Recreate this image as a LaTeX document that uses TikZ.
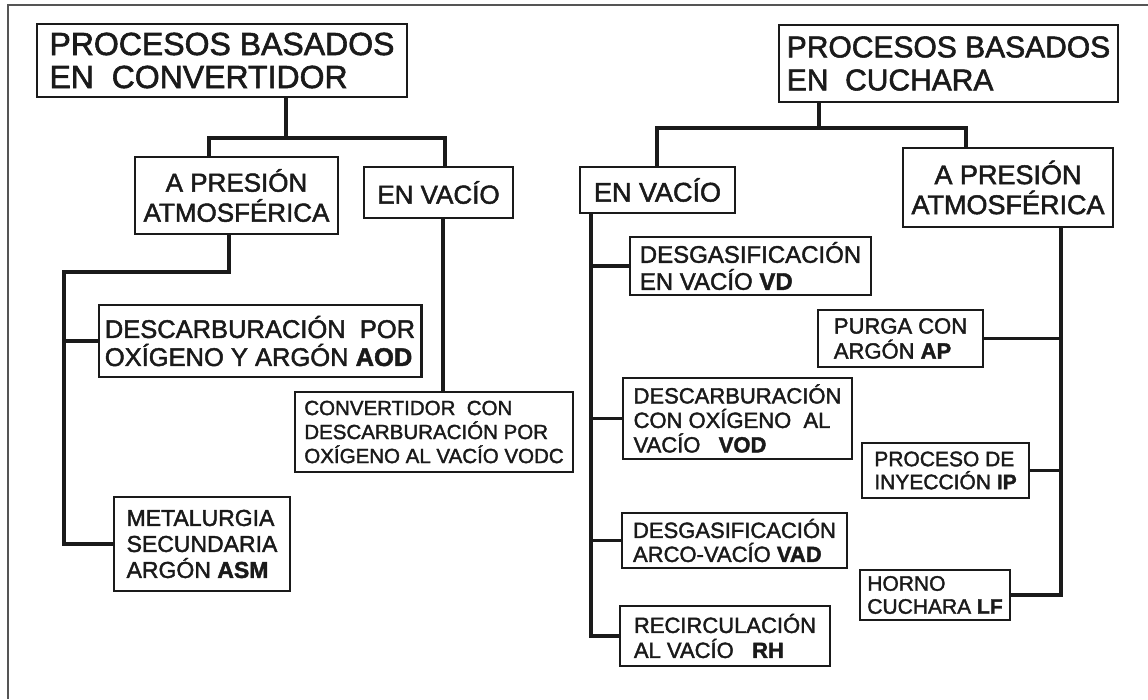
\documentclass[tikz,border=0pt]{standalone}
\usepackage{fontspec}
\setmainfont{Liberation Sans}[FakeBold=1.8]
\definecolor{ink}{HTML}{1A1A1A}
\definecolor{framec}{HTML}{555555}
\newcommand\setfs[2]{\fontsize{#1}{#2}\selectfont}
\begin{document}
\begin{tikzpicture}[x=1pt,y=-1pt,
  box/.style={draw=ink, line width=2.7pt, inner xsep=6pt, inner ysep=1pt, align=left, text=ink},
  wire/.style={draw=ink, line width=3.2pt, line cap=rect}]
\useasboundingbox (0,0) rectangle (1148,699);
\fill[white] (0,0) rectangle (1148,699);
\draw[framec, line width=1.4pt] (8,699) -- (8,5) -- (1148,5);

% left tree
\node[box, minimum width=370pt, minimum height=73pt, font=\setfs{32}{33}] (conv) at (222,60.5) {PROCESOS BASADOS\\EN\ \ CONVERTIDOR};
\node[box, align=center, minimum width=203pt, minimum height=77pt, font=\setfs{26}{30}] (apres) at (236.5,195.5) {A PRESIÓN\\ATMOSFÉRICA};
\node[box, minimum width=149pt, minimum height=51pt, font=\setfs{26}{28}] (vac) at (438.5,192.5) {EN VACÍO};
\node[box, minimum width=322pt, minimum height=72pt, font=\setfs{25.5}{28}] (aod) at (260,341) {DESCARBURACIÓN\ \ POR\\OXÍGENO Y ARGÓN \textbf{AOD}};
\node[box, minimum width=278pt, minimum height=80pt, font=\setfs{20.5}{24}] (vodc) at (434,432) {CONVERTIDOR\ \ CON\\DESCARBURACIÓN POR\\OXÍGENO AL VACÍO VODC};
\node[box, minimum width=176pt, minimum height=94pt, font=\setfs{23}{26}] (asm) at (202,544) {METALURGIA\\SECUNDARIA\\ARGÓN \textbf{ASM}};

% right tree
\node[box, minimum width=339pt, minimum height=77pt, font=\setfs{30}{33}] (cuch) at (948.5,63.5) {PROCESOS BASADOS\\EN\ \ CUCHARA};
\node[box, minimum width=155pt, minimum height=46pt, font=\setfs{27}{28}] (vacR) at (657.5,190) {EN VACÍO};
\node[box, align=center, minimum width=210pt, minimum height=79pt, font=\setfs{27}{30}] (apresR) at (1008,187.5) {A PRESIÓN\\ATMOSFÉRICA};
\node[box, minimum width=241pt, minimum height=58pt, font=\setfs{24}{27}] (vd) at (750.5,266) {DESGASIFICACIÓN\\EN VACÍO \textbf{VD}};
\node[box, minimum width=229pt, minimum height=81pt, font=\setfs{22}{24.5}] (vod) at (737.5,418.5) {DESCARBURACIÓN\\CON OXÍGENO\ \ AL\\VACÍO\ \ \ \textbf{VOD}};
\node[box, minimum width=225pt, minimum height=55pt, font=\setfs{22}{24}] (vad) at (734.5,540.5) {DESGASIFICACIÓN\\ARCO-VACÍO \textbf{VAD}};
\node[box, minimum width=210pt, minimum height=60pt, font=\setfs{22}{25}] (rh) at (725,636) {RECIRCULACIÓN\\AL VACÍO\ \ \ \textbf{RH}};
\node[box, minimum width=165pt, minimum height=57pt, font=\setfs{22}{25}] (ap) at (900.5,338.5) {PURGA CON\\ARGÓN \textbf{AP}};
\node[box, minimum width=167pt, minimum height=55pt, font=\setfs{21}{23}] (ip) at (945.5,470.5) {PROCESO DE\\INYECCIÓN \textbf{IP}};
\node[box, minimum width=150pt, minimum height=50pt, font=\setfs{21}{23}] (lf) at (935,595) {HORNO\\CUCHARA \textbf{LF}};

% junction points
\coordinate (jL) at (286,138);
\coordinate (hL1) at (209,138);
\coordinate (hL2) at (445,138);
\coordinate (aL) at (229,272);
\coordinate (aL2) at (64,272);
\coordinate (vL) at (443,300);
\coordinate (jR) at (819,128);
\coordinate (hR1) at (657,128);
\coordinate (hR2) at (966,128);
\coordinate (sR) at (591,300);
\coordinate (sR2) at (1061,300);

% left connectors
\draw[wire] (conv.south -| jL) -- (jL);
\draw[wire] (apres.north -| hL1) -- (hL1) -- (hL2) -- (vac.north -| hL2);
\draw[wire] (apres.south -| aL) -- (aL) -- (aL2) -- (aL2 |- asm.west) -- (asm.west);
\draw[wire] (aL2 |- aod.west) -- (aod.west);
\draw[wire] (vac.south -| vL) -- (vodc.north -| vL);

% right connectors
\draw[wire] (cuch.south -| jR) -- (jR);
\draw[wire] (vacR.north -| hR1) -- (hR1) -- (hR2) -- (apresR.north -| hR2);
\draw[wire] (vacR.south -| sR) -- (sR |- rh.west) -- (rh.west);
\draw[wire] (sR |- vd.west) -- (vd.west);
\draw[wire] (sR |- vod.west) -- (vod.west);
\draw[wire] (sR |- vad.west) -- (vad.west);
\draw[wire] (apresR.south -| sR2) -- (sR2 |- lf.east) -- (lf.east);
\draw[wire] (sR2 |- ap.east) -- (ap.east);
\draw[wire] (sR2 |- ip.east) -- (ip.east);
\end{tikzpicture}
\end{document}
